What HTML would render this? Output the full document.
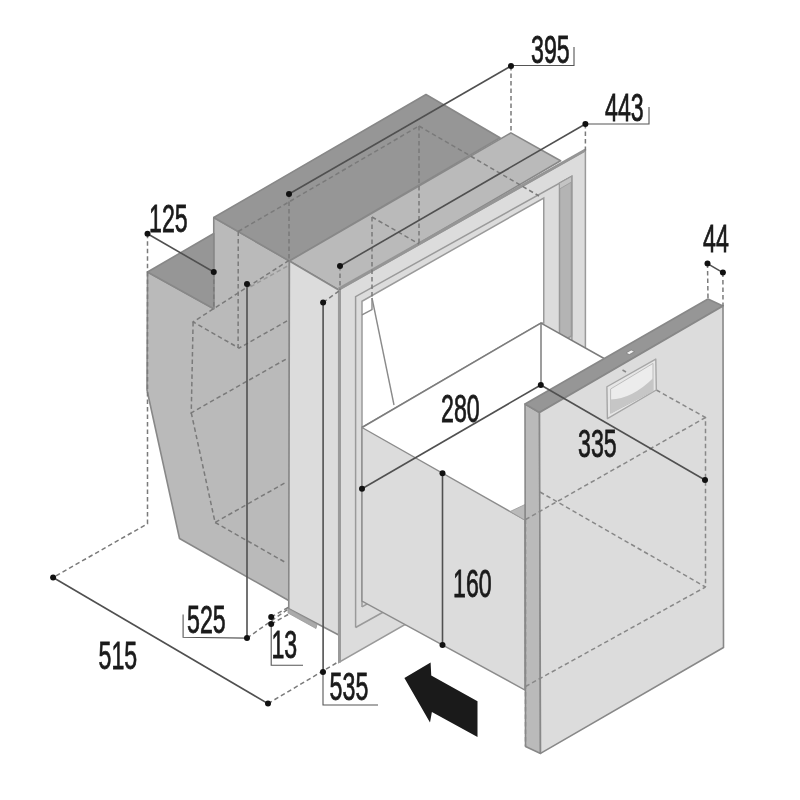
<!DOCTYPE html>
<html><head><meta charset="utf-8">
<style>
html,body{margin:0;padding:0;background:#fff;width:800px;height:800px;overflow:hidden}
svg{display:block;filter:blur(0.4px)}
text{font-family:"Liberation Sans",sans-serif;fill:#1a1a1a}
</style></head>
<body>
<svg width="800" height="800" viewBox="0 0 800 800">
<rect width="800" height="800" fill="#fff"/>

<!-- ===== BODY ===== -->
<g stroke="#888" stroke-width="1.6" stroke-linejoin="round">
  <!-- body left face -->
  <polygon fill="#bababa" points="147.5,272 213.75,308.75 213.75,217.5 289.4,261 289.5,601 179.5,538.5 147,390"/>
  <!-- step top -->
  <polygon fill="#969696" points="147.5,272 213.75,233.5 213.75,308.75"/>
  <!-- dark top -->
  <polygon fill="#969696" points="213.75,217.5 426,94.5 500,137.75 289.4,261"/>
  <!-- medium top -->
  <polygon fill="#bababa" points="289.4,261 510.9,132.9 560.6,160.75 338.75,290"/>
  <!-- frame side face -->
  <polygon fill="#dcdcdc" points="289.4,261 338.75,290 338.75,635 288.75,608.75"/>
</g>
<!-- foot strip -->
<polygon fill="#aaaaaa" stroke="#999" stroke-width="0.8" points="288,608.5 317,624.5 316,628.5 288,613"/>

<!-- ===== FRAME FRONT ===== -->
<polygon fill="#dcdcdc" stroke="#9a9a9a" stroke-width="1.5" points="338.75,290 585.4,150.6 585.4,400 525,430 525,640 405,624.5 338.75,662.5"/>
<!-- frame top edge thick -->
<line x1="338.75" y1="289" x2="585.4" y2="150" stroke="#959595" stroke-width="3"/>
<line x1="339.5" y1="290" x2="339.5" y2="662.5" stroke="#9a9a9a" stroke-width="3"/>

<!-- opening outer border -->
<polyline fill="none" stroke="#9a9a9a" stroke-width="1.5" points="355.6,627.5 355.6,296.6 571.9,176.25 571.9,345"/>
<polyline fill="none" stroke="#9a9a9a" stroke-width="1.5" points="355.6,627.5 405,600"/>
<!-- opening inner white -->
<polygon fill="#ffffff" stroke="#9a9a9a" stroke-width="1.5" points="362,606.9 362,301.25 543.75,198 543.75,323 541,323 362,427.5"/>
<polyline fill="none" stroke="#9a9a9a" stroke-width="1.5" points="362,606.9 400,585"/>
<!-- right inner wall channel -->
<polygon fill="#b4b4b4" stroke="#999" stroke-width="1.5" points="559.5,183.2 571.5,176.5 571.5,336 559.5,343"/>
<polygon fill="#c4c4c4" stroke="#999" stroke-width="0.8" points="559.5,183.2 571.5,176.5 571.5,182 559.5,189"/>
<!-- interior lines -->
<line x1="372" y1="298" x2="394" y2="405" stroke="#8a8a8a" stroke-width="1.4"/>
<polyline fill="none" points="362,314.9 372,309.5 372,298" stroke="#8a8a8a" stroke-width="1.4"/>

<!-- ===== DRAWER ===== -->
<!-- drawer interior -->
<polygon fill="#ffffff" stroke="none" points="362,427.5 541,323 605,359 525,404 525,520"/>
<polyline fill="none" stroke="#7c7c7c" stroke-width="1.5" points="362,427.5 541,323 605,359"/>
<line x1="541" y1="323" x2="541" y2="385" stroke="#7c7c7c" stroke-width="1.5"/>
<!-- drawer left wall -->
<polygon fill="#dcdcdc" stroke="#8c8c8c" stroke-width="1.4" points="362,427.5 525,520 525,690 362,601"/>

<polygon fill="#bababa" stroke="#9a9a9a" stroke-width="0.8" points="510.1,511.5 525,504.5 525,520.25"/>
<!-- panel -->
<g stroke="#888" stroke-width="1.6" stroke-linejoin="round">
  <polygon fill="#bababa" points="525,404 539.5,412.5 540.5,753.4 525.5,746.5"/>
  <polygon fill="#969696" points="525,404 708,299 723,306 539.5,412.5"/>
  <polygon fill="#dcdcdc" points="539.5,412.5 723,306 723.5,647.5 540.5,753.4"/>
</g>
<!-- ===== DASHED HIDDEN LINES ===== -->
<g fill="none" stroke="#7a7a7a" stroke-width="1.5" stroke-dasharray="4.5,3">
  <!-- extension lines -->
  <polyline points="147.5,233.75 147.5,272"/>
  <polyline points="213.75,272 213.75,308.75"/>
  <polyline points="511,66 511,132.9"/>
  <polyline points="289,194 289,261"/>
  <polyline points="585.4,124 585.4,150.6"/>
  <polyline points="340,266 340,290"/>
  <polyline points="707.5,263.6 708,299"/>
  <polyline points="722.9,272.6 723,306"/>
  <polyline points="147.5,272 147.5,523.75 53,577.5"/>
  <polyline points="268,703.6 338,662"/>
  <polyline points="247,638.1 289,608.4"/>
  <polyline points="271.2,617.1 289,607"/>
  <polyline points="271.2,624.1 289,614"/>
  <polyline points="323.1,302.5 339,291"/>
  <!-- body inner liner -->
  <polyline stroke="#9a9a9a" points="250.5,286.75 288,265.75"/>
  <polyline points="238.25,231.5 419,126"/>
  <polyline points="238.25,231.5 238.1,348.1"/>
  <polyline points="289,260.4 193.1,321.9 239,348.1 288.75,320"/>
  <polyline points="193.1,321.9 191.25,412.8 288,358"/>
  <polyline points="191.25,412.8 215.1,522.5 286,482.25"/>
  <polyline points="215.1,522.5 286,562.75"/>
  <polyline points="419,126 419,244"/>
  <polyline points="372,217 419,244"/>
  <polyline points="372,217 372,299"/>
  <polyline points="419,126 539,196"/>
  <!-- panel hidden -->
  <polyline stroke="#888" points="656.3,390 705.5,417.5 705.5,587"/>
  <polyline stroke="#888" points="622.5,370 626,372"/>
  <polyline stroke="#888" points="525.5,519.5 705.5,417.5"/>
  <polyline stroke="#888" points="540,492 705.5,587"/>
  <polyline stroke="#888" points="525.5,686.5 705.5,587"/>
  <polyline stroke="#888" points="525.5,519.5 525.5,746"/>
</g>

<!-- handle -->
<polygon fill="#e6e6e6" stroke="#a6a6a6" stroke-width="1.4" stroke-linejoin="round" points="606.9,386.75 655.8,359.1 656.3,390 607.4,418.6"/>
<polygon fill="#ececec" stroke="#b8b8b8" stroke-width="0.9" points="610.6,389 653,363.4 653,391 610.6,413.3"/>
<path d="M610.6,399.5 Q631.8,399.1 653,378.3 L653,391 L610.6,413.3 Z" fill="#c6c6c6"/>
<polygon fill="#f2f2f2" stroke="#7a7a7a" stroke-width="0.7" points="626,353 631.2,350 634.5,351.6 629.3,354.6"/>
<!-- ===== DIMENSION LINES ===== -->
<g stroke="#505050" stroke-width="1.6" fill="none">
  <line x1="147.5" y1="233.75" x2="213.75" y2="272"/>
  <line x1="289" y1="194" x2="511" y2="66"/>
  <line x1="340" y1="266" x2="585.4" y2="124"/>
  <line x1="707.5" y1="263.6" x2="722.9" y2="272.6"/>
  <line x1="362" y1="488.75" x2="540.8" y2="385"/>
  <line x1="540.8" y1="385" x2="705" y2="480"/>
  <line x1="442.5" y1="473.25" x2="442.5" y2="645"/>
  <line x1="247" y1="284" x2="247" y2="638.1"/>
  <line x1="323.1" y1="302.5" x2="323.1" y2="672"/>
  <line x1="53.1" y1="577.5" x2="268" y2="703.6"/>
</g>
<g stroke="#555" stroke-width="1.1" fill="none">
  <polyline points="511,65.5 574,65.5 574,47"/>
  <polyline points="585.4,124 649,124 649,107"/>
  <polyline points="247,638.1 183.1,637.3 183.1,614.5"/>
  <polyline points="271.2,624.1 271.2,665.25 303,665.25"/>
  <polyline points="323,672 323,705 378,705"/>
</g>
<g fill="#111">
  <circle cx="147.5" cy="233.75" r="3"/>
  <circle cx="213.75" cy="272" r="3"/>
  <circle cx="289" cy="194" r="3"/>
  <circle cx="511" cy="66" r="3"/>
  <circle cx="340" cy="266" r="3"/>
  <circle cx="585.4" cy="124" r="3"/>
  <circle cx="707.5" cy="263.6" r="3"/>
  <circle cx="722.9" cy="272.6" r="3"/>
  <circle cx="362" cy="488.75" r="3"/>
  <circle cx="540.8" cy="385" r="3"/>
  <circle cx="705" cy="480" r="3"/>
  <circle cx="442.5" cy="473.25" r="3"/>
  <circle cx="442.5" cy="645" r="3"/>
  <circle cx="247" cy="284" r="3"/>
  <circle cx="247" cy="638.1" r="3"/>
  <circle cx="323.1" cy="302.5" r="3"/>
  <circle cx="323" cy="672" r="3"/>
  <circle cx="53.1" cy="577.5" r="3"/>
  <circle cx="268" cy="703.6" r="3"/>
  <circle cx="271.2" cy="617.1" r="3"/>
  <circle cx="271.2" cy="624.1" r="3"/>
</g>

<!-- ===== LABELS ===== -->
<g font-size="38" stroke="#1a1a1a" stroke-width="0.8">
  <text transform="translate(149.0,232.3) scale(0.61,1)">125</text>
  <text transform="translate(531.0,62.5) scale(0.61,1)">395</text>
  <text transform="translate(605.0,121.0) scale(0.61,1)">443</text>
  <text transform="translate(703.0,252.0) scale(0.61,1)">44</text>
  <text transform="translate(441.0,422.0) scale(0.61,1)">280</text>
  <text transform="translate(578.0,457.0) scale(0.61,1)">335</text>
  <text transform="translate(453.0,597.0) scale(0.61,1)">160</text>
  <text transform="translate(187.0,633.0) scale(0.61,1)">525</text>
  <text transform="translate(271.4,657.5) scale(0.61,1)">13</text>
  <text transform="translate(98.5,669.0) scale(0.61,1)">515</text>
  <text transform="translate(329.6,700.0) scale(0.61,1)">535</text>
</g>

<!-- ===== ARROW ===== -->
<polygon fill="#1a1a1a" points="404.4,678.1 430.6,662.5 431.25,675.6 477.5,701.25 477.5,736.9 431.9,711.9 430,722.5"/>
</svg>
</body></html>
